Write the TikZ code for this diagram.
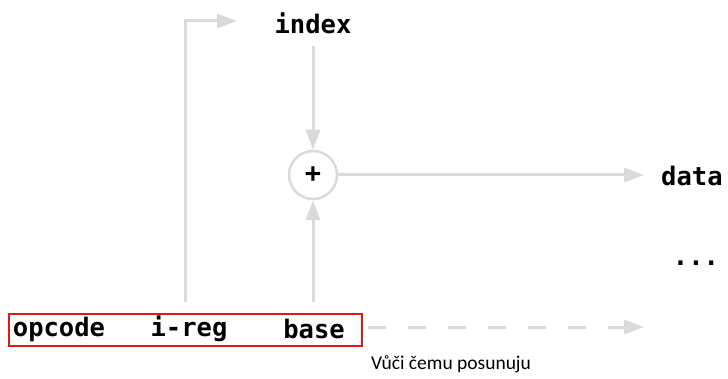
\documentclass[tikz,border=0pt]{standalone}
\usepackage{fontspec}
\setmainfont{Carlito}
\newfontfamily\codefont{DejaVu Sans Mono}
\usetikzlibrary{arrows.meta,positioning}
\definecolor{wire}{RGB}{218,218,218}
\definecolor{boxred}{RGB}{235,20,20}
\tikzset{
  code/.style={font=\codefont\bfseries\fontsize{25.5}{30}\selectfont, inner sep=0pt},
  wireline/.style={draw=wire, line width=3pt},
  flow/.style={wireline, -{Triangle[length=20pt,width=14pt]}},
}
\begin{document}
\begin{tikzpicture}[x=1pt,y=-1pt]
  \useasboundingbox (0,0) rectangle (728,379);

  % instruction fields
  \node[code] (opcode) at (59,329) {opcode};
  \node[code] (ireg)   at (189,329) {i-reg};
  \node[code] (base)   at (314,329) {base};
  \node[draw=boxred, line width=1.5pt, minimum width=353pt, minimum height=32pt,
        inner sep=0pt] (instr) at (185.5,330) {};

  % operands and result
  \node[code] (index) at (313,23) {index};
  \node[circle, draw=wire, line width=2.5pt, minimum size=48pt, inner sep=0pt,
        font=\codefont\bfseries\fontsize{27}{30}\selectfont] (plus) at (313,175) {+};
  \node[code, anchor=west] (data) at (661,176) {data};
  \node[code] (more) at (696,263) {...};

  \coordinate (irtop)  at (185,302);
  \coordinate (idxin)  at (237,21);
  \coordinate (btop)   at (313,302);
  \coordinate (idxbot) at (313,46);
  \coordinate (dataarr) at (644,175);
  \coordinate (nextarr) at (644,327);

  % connectors
  \draw[flow] (irtop) |- (idxin);
  \draw[flow] (idxbot) -- (plus.north);
  \draw[flow] (btop) -- (plus.south);
  \draw[flow] (plus.east) -- (dataarr);
  \draw[flow, dash pattern=on 18pt off 22pt, dash phase=-5pt]
    (instr.east |- nextarr) -- (nextarr);

  % caption
  \node[font=\fontsize{19.5}{23}\selectfont] (caption) at (451,364) {Vůči čemu posunuju};
\end{tikzpicture}
\end{document}
